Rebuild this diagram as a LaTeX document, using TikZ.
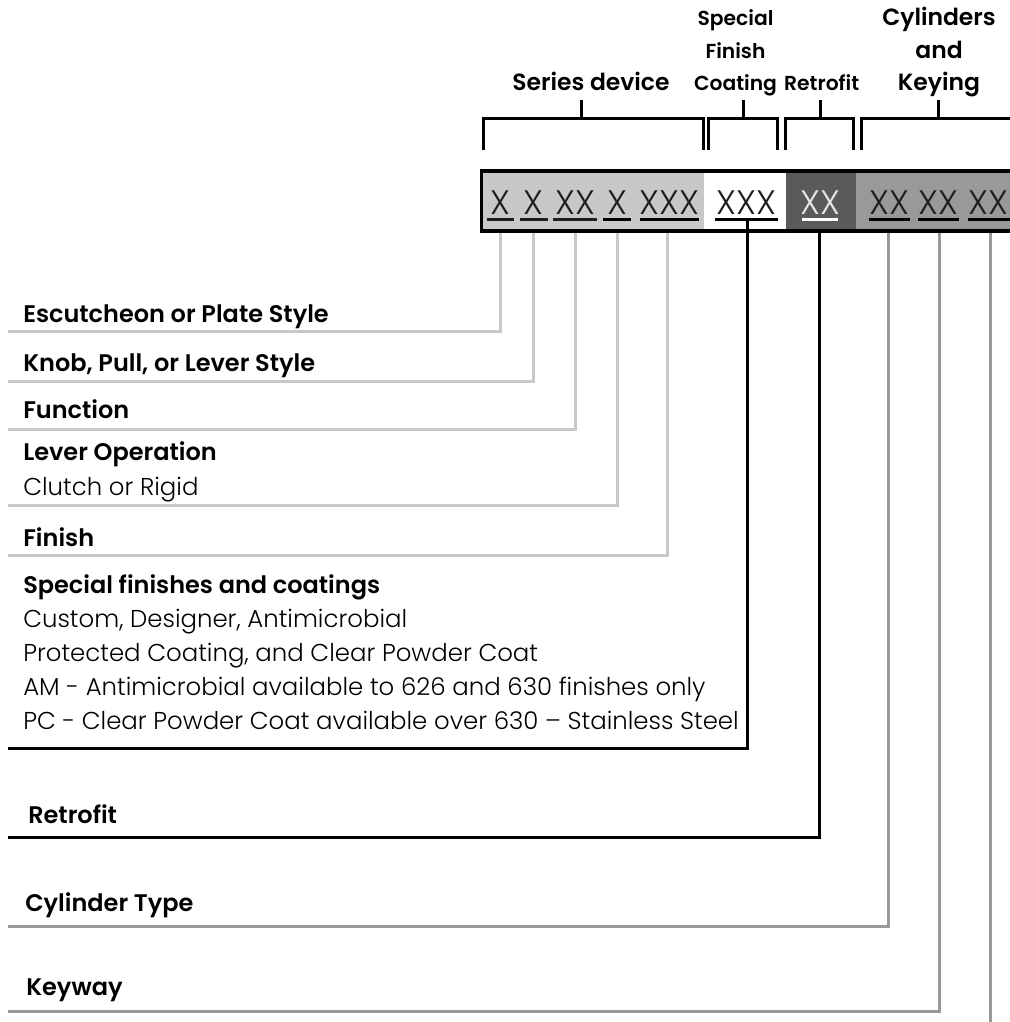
\documentclass[tikz,border=0pt]{standalone}
\usepackage{fontspec}
\setmainfont{Poppins}[BoldFont={Poppins SemiBold}]
\newfontfamily\lightf{Poppins Light}
\definecolor{barlight}{HTML}{C8C8C8}
\definecolor{bardark}{HTML}{5A5A5A}
\definecolor{barmid}{HTML}{999999}
\definecolor{xdark}{HTML}{1E1E1E}
\definecolor{xwhite}{HTML}{E6E6E6}
\begin{document}
\begin{tikzpicture}[x=0.75pt,y=-0.75pt,
  lbl/.style={anchor=base west,inner sep=0pt,font=\fontsize{18}{18}\selectfont\bfseries},
  body/.style={anchor=base west,inner sep=0pt,font=\fontsize{18.3}{18.3}\selectfont\lightf},
  ttl/.style={anchor=base,inner sep=0pt,font=\fontsize{17.6}{17.6}\selectfont\bfseries},
  sttl/.style={anchor=base,inner sep=0pt,font=\fontsize{15.2}{15.2}\selectfont\bfseries},
  xs/.style={anchor=base,inner sep=0pt,font=\fontsize{25.5}{25.5}\selectfont\lightf},
  brk/.style={draw=black,line width=2.25pt},
  uline/.style={line width=1.6pt},
  lead/.style={line width=2.25pt},
]
\useasboundingbox (0,0) rectangle (1010,1022);
\clip (0,0) rectangle (1010,1022);

% ---- bar ----
\fill[barlight] (481.3,171) rectangle (704,231);
\fill[white] (704,171) rectangle (785.7,231);
\fill[bardark] (785.7,171) rectangle (856,231);
\fill[barmid] (856,171) rectangle (1040,231);
\draw[line width=2.6pt] (481.3,171) rectangle (1040,231);

% ---- codes ----
\node[xs,text=xdark] (c1) at (500.5,214) {X};
\node[xs,text=xdark] (c2) at (533.8,214) {X};
\node[xs,text=xdark] (c3) at (575.3,214) {XX};
\node[xs,text=xdark] (c4) at (617,214) {X};
\node[xs,text=xdark] (c5) at (669.5,214) {XXX};
\node[xs,text=xdark] (c6) at (746.7,214) {XXX};
\node[xs,text=xwhite] (c7) at (820.3,214) {XX};
\node[xs,text=xdark] (c8) at (889.5,214) {XX};
\node[xs,text=xdark] (c9) at (938.7,214) {XX};
\node[xs,text=xdark] (c10) at (988.8,214) {XX};

\draw[uline,xdark] (486.7,219.5) -- (514.3,219.5);
\draw[uline,xdark] (520,219.5) -- (547.7,219.5);
\draw[uline,xdark] (553.3,219.5) -- (597.3,219.5);
\draw[uline,black] (603.3,219.5) -- (631,219.5);
\draw[uline,black] (640,219.5) -- (699,219.5);
\draw[uline,black] (715,219.5) -- (778.3,219.5);
\draw[uline,white] (802.3,219.5) -- (838.3,219.5);
\draw[uline,black] (869,219.5) -- (910,219.5);
\draw[uline,black] (918.3,219.5) -- (959,219.5);
\draw[uline,black] (968.3,219.5) -- (1009.5,219.5);

% ---- brackets and titles ----
\draw[brk] (483,150) -- (483,118.3) -- (703,118.3) -- (703,150);
\draw[brk] (581,118.3) -- (581,100);
\draw[brk] (708,150) -- (708,118.3) -- (777,118.3) -- (777,150);
\draw[brk] (743,118.3) -- (743,100);
\draw[brk] (785.5,150) -- (785.5,118.3) -- (853,118.3) -- (853,150);
\draw[brk] (820,118.3) -- (820,100);
\draw[brk] (861,150) -- (861,118.3) -- (1040,118.3);
\draw[brk] (938,118.3) -- (938,100);

\node[ttl] (tSeries) at (591,90.7) {Series device};
\node[sttl] (tSpecA) at (735.5,25) {Special};
\node[sttl] (tSpecB) at (735.5,58.3) {Finish};
\node[sttl] (tSpecC) at (735.5,90.7) {Coating};
\node[sttl] (tRetro) at (821.7,90.7) {Retrofit};
\node[ttl] (tCylA) at (939,25.7) {Cylinders};
\node[ttl] (tCylB) at (939,58.3) {and};
\node[ttl] (tCylC) at (939,90.7) {Keying};

% ---- labels ----
\node[lbl] (lEsc) at (23,322.7) {Escutcheon or Plate Style};
\node[lbl] (lKnob) at (23,371) {Knob, Pull, or Lever Style};
\node[lbl] (lFunc) at (23,418) {Function};
\node[lbl] (lLever) at (23,460.7) {Lever Operation};
\node[body] (lLeverB) at (23,495) {Clutch or Rigid};
\node[lbl] (lFin) at (23,546) {Finish};
\node[lbl] (lSpec) at (23,593) {Special finishes and coatings};
\node[body] (lSpecB) at (23,627.7) {Custom, Designer, Antimicrobial};
\node[body] (lSpecC) at (23,661.7) {Protected Coating, and Clear Powder Coat};
\node[body] (lSpecD) at (23,695) {AM - Antimicrobial available to 626 and 630 finishes only};
\node[body] (lSpecE) at (23,729) {PC - Clear Powder Coat available over 630 – Stainless Steel};
\node[lbl] (lRetro) at (28,823) {Retrofit};
\node[lbl] (lCyl) at (25,911.7) {Cylinder Type};
\node[lbl] (lKey) at (26,995) {Keyway};

% ---- leader anchors ----
\coordinate (s1) at (500.7,233);
\coordinate (s2) at (533.5,233);
\coordinate (s3) at (575,233);
\coordinate (s4) at (617,233);
\coordinate (s5) at (667,233);
\coordinate (s6) at (747.3,220);
\coordinate (s7) at (819.5,233);
\coordinate (s8) at (888,233);
\coordinate (s9) at (939.3,233);
\coordinate (s10) at (990,233);
\coordinate (e1) at (8,331.5);
\coordinate (e2) at (8,381);
\coordinate (e3) at (8,429.5);
\coordinate (e4) at (8,505.5);
\coordinate (e5) at (8,555.5);
\coordinate (e6) at (8,748);
\coordinate (e7) at (8,837);
\coordinate (e8) at (8,926.5);
\coordinate (e9) at (8,1011);
\coordinate (e10) at (990,1040);

\draw[lead,barlight] (s1) |- (e1);
\draw[lead,barlight] (s2) |- (e2);
\draw[lead,barlight] (s3) |- (e3);
\draw[lead,barlight] (s4) |- (e4);
\draw[lead,barlight] (s5) |- (e5);
\draw[lead,black] (s6) |- (e6);
\draw[lead,black] (s7) |- (e7);
\draw[lead,barmid] (s8) |- (e8);
\draw[lead,barmid] (s9) |- (e9);
\draw[lead,barmid] (s10) -- (e10);
\end{tikzpicture}
\end{document}
